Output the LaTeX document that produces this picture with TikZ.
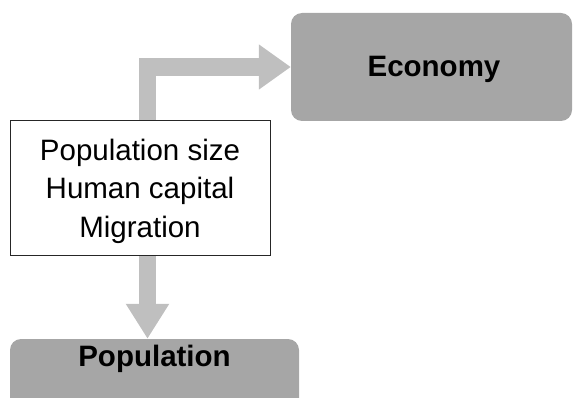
\documentclass[tikz,border=0pt]{standalone}
\usepackage{fontspec}
\setmainfont{Liberation Sans}
\usetikzlibrary{arrows.meta,backgrounds}
\definecolor{boxgray}{HTML}{A6A6A6}
\definecolor{arrowgray}{HTML}{BFBFBF}
\tikzset{
  graybox/.style={fill=boxgray, draw=none, rounded corners=11pt, inner sep=0pt},
  boldlabel/.style={font=\fontsize{29.5}{34}\selectfont\bfseries, inner sep=0pt},
  factorbox/.style={draw=black!85, line width=0.8pt, fill=white, inner sep=0pt,
    minimum width=260pt, minimum height=135pt},
  factortext/.style={inner sep=0pt, align=center,
    font=\fontsize{29.5}{38.5}\selectfont},
  fatarrow/.style={draw=arrowgray, line width=17.5pt, line join=miter, line cap=butt},
}
\begin{document}
\begin{tikzpicture}[x=1pt,y=-1pt]
\useasboundingbox (0,0) rectangle (573,398);
\clip (0,0) rectangle (573,398);
\node[graybox, minimum width=281pt, minimum height=108pt] (eco) at (431.5,67) {};
\node[boldlabel] (ecotext) at (434,69) {Economy};
\node[graybox, minimum width=289pt, minimum height=90pt] (pop) at (154.5,384) {};
\node[boldlabel] (poptext) at (154.5,359) {Population};
\node[factorbox] (tb) at (140,187.5) {};
\node[factortext] (tbtext) at (140,191) {Population size\\Human capital\\Migration};
\coordinate (up) at (147.5,120);
\coordinate (down) at (147.5,255);
\begin{scope}[on background layer]
\draw[fatarrow, -{Triangle[length=32pt,width=43pt]}] (up) |- (eco.west);
\draw[fatarrow, -{Triangle[length=35pt,width=41pt]}] (down) -- (pop.north -| down);
\end{scope}
\end{tikzpicture}
\end{document}
